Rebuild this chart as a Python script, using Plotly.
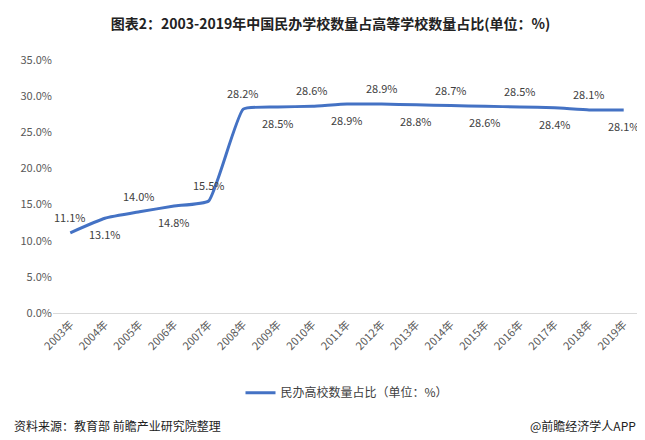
import plotly.graph_objects as go

years = [f"{y}年" for y in range(2003, 2020)]
share = [11.1, 13.1, 14.0, 14.8, 15.5, 28.2, 28.5, 28.6, 28.9, 28.9, 28.8, 28.7, 28.6, 28.5, 28.4, 28.1, 28.1]
label_up = [True, False, True, False, True, True, False, True, False, True, False, True,
            False, True, False, True, False]

font = "Noto Sans CJK SC"
fig = go.Figure()
fig.add_trace(go.Scatter(
    x=years, y=share, mode="lines", name="民办高校数量占比（单位：%）",
    line=dict(color="#4472C4", width=3, shape="spline", smoothing=0.4),
))

# data labels, alternately above and below the line
for yr, v, up in zip(years, share, label_up):
    fig.add_annotation(x=yr, y=v, text=f"{v:.1f}%", showarrow=False,
                       yshift=16 if up else -16, font=dict(size=11, color="#404040"))

fig.update_layout(
    width=645, height=440, plot_bgcolor="white", paper_bgcolor="white",
    font=dict(family=font, color="#595959"),
    margin=dict(l=45, r=12, t=52, b=135),
    title=dict(text="<b>图表2：2003-2019年中国民办学校数量占高等学校数量占比(单位：%)</b>",
               x=0.5, y=0.975, xanchor="center", font=dict(size=14, color="#222")),
    xaxis=dict(tickangle=-45, tickfont=dict(size=11), showline=True, linecolor="#d9d9d9",
               showgrid=False, ticks="", range=[-0.5, 16.5]),
    yaxis=dict(range=[0, 35], dtick=5, tickformat=".1f", ticksuffix="%", showgrid=False,
               zeroline=False, tickfont=dict(size=11)),
    legend=dict(orientation="h", x=0.5, xanchor="center", yanchor="middle", y=-0.315,
                font=dict(size=12, color="#404040")),
    showlegend=True,
)
fig.add_annotation(text="资料来源：教育部 前瞻产业研究院整理", xref="paper", yref="paper",
                   x=-0.07, y=-0.445, xanchor="left", yanchor="middle", showarrow=False,
                   font=dict(size=12, color="#222"))
fig.add_annotation(text="@前瞻经济学人APP", xref="paper", yref="paper",
                   x=0.995, y=-0.445, xanchor="right", yanchor="middle", showarrow=False,
                   font=dict(size=12, color="#222"))
fig.write_html("out.html")
